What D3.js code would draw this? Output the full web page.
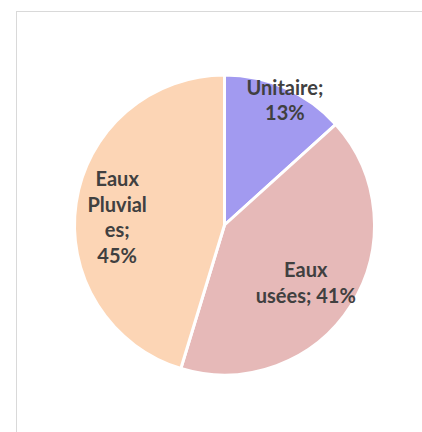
<!DOCTYPE html>
<html>
<head>
<meta charset="utf-8">
<script src="https://cdn.jsdelivr.net/npm/d3@7"></script>
<style>
  html, body { margin: 0; padding: 0; background: #fff; }
  svg { display: block; }
</style>
</head>
<body>
<div id="chart"></div>
<script>
(function() {
  var width = 422,
      height = 432;

  // data
  var categories = ["Unitaire", "Eaux usées", "Eaux Pluviales"];
  var values = [13.3, 41.4, 45.3];
  var colors = ["#a29af0", "#e6b9b8", "#fcd5b5"];
  // how the label text was wrapped in the original
  var labelLines = [
    ["Unitaire;", "13%"],
    ["Eaux", "usées; 41%"],
    ["Eaux", "Pluvial", "es;", "45%"]
  ];

  var cx = 224.5, cy = 225, radius = 150;
  var labelRadius = [139, 101, 107];
  // small nudges so labels sit where excel put them
  var labelNudge = [[4, 2.5], [-4, 4], [-1.5, 8]];
  var lineHeight = 25.5;

  var svg = d3.select("#chart")
    .append("svg")
      .attr("width", width)
      .attr("height", height);

  // chart area frame (only top/left visible in the crop)
  svg.append("rect")
      .attr("x", 16.5)
      .attr("y", 11.5)
      .attr("width", 440)
      .attr("height", 440)
      .attr("fill", "#fff")
      .attr("stroke", "#d9d9d9");

  var data = categories.map(function(c, i) {
    return {name: c, value: values[i], color: colors[i], lines: labelLines[i], i: i};
  });

  var pie = d3.pie()
    .sort(null)
    .value(function(d) { return d.value; });

  var arc = d3.arc()
    .innerRadius(0)
    .outerRadius(radius);

  var g = svg.append("g")
      .attr("transform", "translate(" + cx + "," + cy + ")");

  var arcs = pie(data);

  g.selectAll(".slice")
    .data(arcs)
    .enter().append("path")
      .attr("class", "slice")
      .attr("d", arc)
      .attr("fill", function(d) { return d.data.color; })
      .attr("stroke", "#fff")
      .attr("stroke-width", 3)
      .attr("stroke-linejoin", "round");

  var label = g.selectAll(".label")
    .data(arcs)
    .enter().append("text")
      .attr("class", "label")
      .attr("transform", function(d) {
        var i = d.data.i;
        var r = labelRadius[i];
        var p = d3.arc().innerRadius(r).outerRadius(r).centroid(d);
        return "translate(" + (p[0] + labelNudge[i][0]) + "," + (p[1] + labelNudge[i][1]) + ")";
      })
      .attr("text-anchor", "middle")
      .style("font-family", "Lato, 'Open Sans', sans-serif")
      .style("font-weight", "bold")
      .style("font-size", "20px")
      .attr("fill", "#404040");

  label.each(function(d) {
    var t = d3.select(this);
    var n = d.data.lines.length;
    d.data.lines.forEach(function(line, k) {
      t.append("tspan")
        .attr("x", 0)
        .attr("y", (k - (n - 1) / 2) * lineHeight)
        .attr("dy", "0.35em")
        .text(line);
    });
  });
})();
</script>
</body>
</html>
